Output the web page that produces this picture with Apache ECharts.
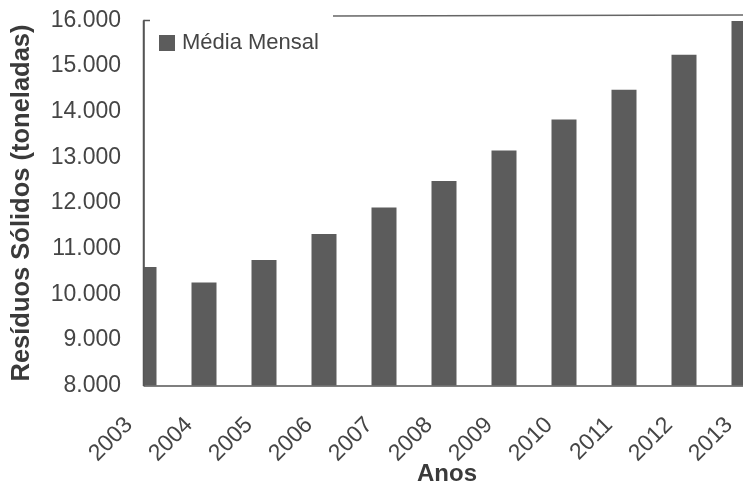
<!DOCTYPE html>
<html><head><meta charset="utf-8">
<script src="https://cdn.jsdelivr.net/npm/echarts@6/dist/echarts.min.js"></script>
<style>html,body{margin:0;padding:0;background:#fff}#c{width:743px;height:485px}</style>
</head><body><div id="c"></div>
<script>
var anos = ['2003','2004','2005','2006','2007','2008','2009','2010','2011','2012','2013'];
var mediaMensal = [10600, 10260, 10750, 11320, 11900, 12480, 13150, 13830, 14480, 15250, 15990];
var yTicks = [8000, 9000, 10000, 11000, 12000, 13000, 14000, 15000, 16000];
var serieNome = 'Média Mensal';
var eixoY = 'Resíduos Sólidos (toneladas)';
var eixoX = 'Anos';

var chart = echarts.init(document.getElementById('c'), null, {renderer:'canvas'});
var txt = '#454545';
var ff = 'Liberation Sans, Arial, sans-serif';
chart.setOption({
  animation:false,
  backgroundColor:'#fff',
  textStyle:{fontFamily:ff},
  grid:{left:144, top:20.5, width:600, height:365, containLabel:false, outerBoundsMode:'none'},
  legend:{
    left:154, top:27, itemWidth:16, itemHeight:16, itemGap:5,
    icon:'rect',
    data:[serieNome],
    textStyle:{fontSize:22, color:txt, fontFamily:ff, padding:[0,0,0,2]}
  },
  xAxis:{
    type:'category', data:anos, boundaryGap:false,
    axisLine:{lineStyle:{color:'#555', width:1.5}},
    axisTick:{show:false},
    axisLabel:{rotate:45, fontSize:23, color:txt, margin:21, interval:0,
      formatter:function(v){return '{t|'+v+'}{s| }';},
      rich:{t:{fontSize:23, color:txt, fontFamily:ff}, s:{width:21, fontSize:23}}},
    name:eixoX, nameLocation:'middle', nameGap:77, nameMoveOverlap:false,
    nameTextStyle:{fontSize:24, fontWeight:'bold', color:'#3a3a3a', padding:[0,0,0,6]}
  },
  yAxis:{
    type:'value', min:8000, max:16000, interval:1000,
    axisLine:{show:true, lineStyle:{color:'#555', width:1.5}},
    axisTick:{show:false},
    splitLine:{show:false},
    axisLabel:{fontSize:23, color:txt, margin:23,
      formatter:function(v){return yTicks.indexOf(v)>=0 ? String(v).replace(/(\d)(?=(\d{3})+$)/,'$1.') : '';}},
    name:eixoY, nameLocation:'middle', nameGap:109, nameRotate:90,
    nameTextStyle:{fontSize:25.5, fontWeight:'bold', color:'#3a3a3a'}
  },
  series:[{
    name:serieNome, type:'bar', data:mediaMensal, barWidth:25,
    clip:true,
    itemStyle:{color:'#5c5c5c'}
  }],
  graphic:[
    {type:'rect', shape:{x:124, y:18, width:19.2, height:370}, style:{fill:'#fff'}, z:5},
    {type:'line', shape:{x1:333, y1:16, x2:743, y2:15}, style:{stroke:'#666', lineWidth:1.5}, z:10},
    {type:'line', shape:{x1:143.5, y1:20.5, x2:150, y2:20.5}, style:{stroke:'#555', lineWidth:1.5}, z:10},
    {type:'line', shape:{x1:143.5, y1:20.5, x2:143.5, y2:386}, style:{stroke:'#555', lineWidth:1.5}, z:10}
  ]
});
</script></body></html>
